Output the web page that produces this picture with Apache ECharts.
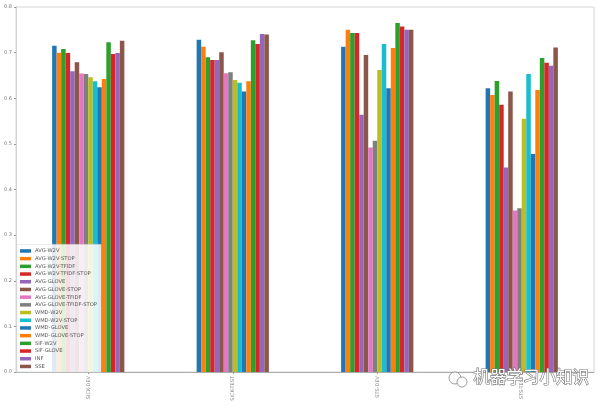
<!DOCTYPE html>
<html><head><meta charset="utf-8">
<script src="https://cdn.jsdelivr.net/npm/echarts@6/dist/echarts.min.js"></script>
<style>html,body{margin:0;padding:0;background:#fff}#c{width:600px;height:406px}</style>
</head><body><div id="c"></div>
<script>
const categories = ['SICK-DEV', 'SICK-TEST', 'STS-DEV', 'STS-TEST'];
const seriesNames = ['AVG-W2V','AVG-W2V-STOP','AVG-W2V-TFIDF','AVG-W2V-TFIDF-STOP','AVG-GLOVE','AVG-GLOVE-STOP','AVG-GLOVE-TFIDF','AVG-GLOVE-TFIDF-STOP','WMD-W2V','WMD-W2V-STOP','WMD-GLOVE','WMD-GLOVE-STOP','SIF-W2V','SIF-GLOVE','INF','SSE'];
const sickDev  = [0.715,0.700,0.708,0.699,0.659,0.679,0.654,0.653,0.646,0.637,0.624,0.642,0.723,0.697,0.699,0.726];
const sickTest = [0.728,0.713,0.690,0.684,0.684,0.701,0.655,0.657,0.640,0.634,0.615,0.637,0.727,0.719,0.741,0.740];
const stsDev   = [0.713,0.750,0.743,0.743,0.564,0.695,0.492,0.507,0.662,0.719,0.622,0.710,0.765,0.757,0.750,0.750];
const stsTest  = [0.622,0.607,0.638,0.586,0.448,0.615,0.354,0.359,0.555,0.653,0.478,0.618,0.688,0.678,0.671,0.711];
const yTicks = [0.0,0.1,0.2,0.3,0.4,0.5,0.6,0.7,0.8];
const palette = ['#1f77b4','#ff7f0e','#2ca02c','#d62728','#9467bd','#8c564b','#e377c2','#7f7f7f','#bcbd22','#17becf'];

const groups = [sickDev, sickTest, stsDev, stsTest];
const series = seriesNames.map((n, i) => ({
  name: n, type: 'bar', barGap: 0, barCategoryGap: '50%',
  itemStyle: { color: palette[i % 10] },
  data: groups.map(g => g[i])
}));

const chart = echarts.init(document.getElementById('c'), null, {renderer: 'canvas'});
chart.setOption({
  animation: false,
  backgroundColor: '#fff',
  grid: { left: 16, right: 6, top: 7, bottom: 34, show: true, borderColor: '#ccc', borderWidth: 0.8 },
  xAxis: {
    type: 'category', data: categories,
    axisLine: { lineStyle: { color: '#999', width: 0.8 } },
    axisTick: { show: true, alignWithLabel: true, length: 2, lineStyle: { color: '#999' } },
    axisLabel: { rotate: 90, fontSize: 5, color: '#888', margin: 4, fontFamily: 'DejaVu Sans' },
    splitLine: { show: false }
  },
  yAxis: {
    type: 'value', min: 0, max: 0.8, interval: 0.1,
    axisLine: { show: true, lineStyle: { color: '#ccc', width: 0.8 } },
    axisTick: { show: true, length: 2, lineStyle: { color: '#999' } },
    axisLabel: { fontSize: 5, color: '#777', margin: 4, fontFamily: 'DejaVu Sans',
      formatter: v => { const t = yTicks.find(x => Math.abs(x - v) < 1e-6); return (t !== undefined ? t : v).toFixed(1); } },
    splitLine: { show: false }
  },
  legend: {
    orient: 'vertical', left: 17, bottom: 34,
    data: seriesNames, icon: 'rect',
    itemWidth: 11, itemHeight: 3.5, itemGap: 2.6,
    padding: [4, 4, 3, 3],
    backgroundColor: 'rgba(255,255,255,0.85)', borderColor: '#ddd', borderWidth: 0.6,
    textStyle: { fontSize: 5.2, color: '#555', lineHeight: 5.1, height: 5.1, fontFamily: 'DejaVu Sans', padding: [0,0,0,-1] }
  },
  graphic: [
    { type: 'circle', shape: { cx: 455, cy: 378, r: 6 }, style: { fill: 'rgba(255,255,255,0.9)', stroke: '#888', lineWidth: 0.8 }, z: 100 },
    { type: 'circle', shape: { cx: 462, cy: 382, r: 5 }, style: { fill: 'rgba(255,255,255,0.9)', stroke: '#888', lineWidth: 0.8 }, z: 100 },
    { type: 'text', left: 473, top: 368, z: 100,
      style: { text: '机器学习小知识', fontSize: 16.5, fontFamily: 'Noto Sans CJK SC', fill: '#fff', stroke: '#777', lineWidth: 1.2 } }
  ],
  series: series
});
</script></body></html>
